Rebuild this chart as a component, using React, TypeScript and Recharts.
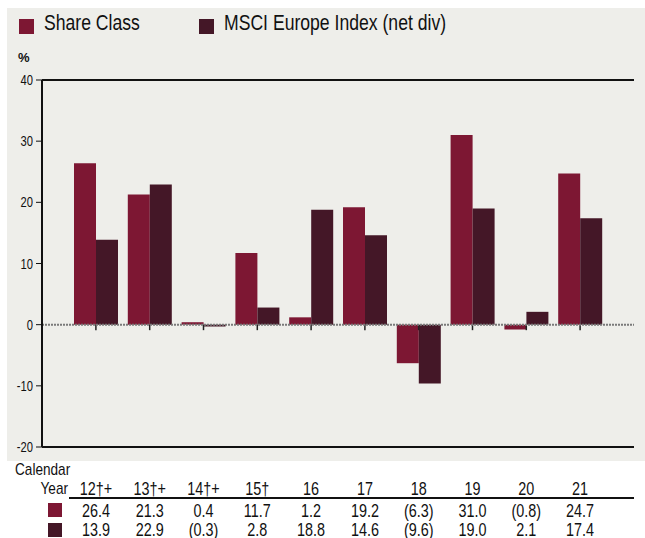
import React from 'react';
import { BarChart, Bar, XAxis, YAxis, ReferenceLine } from 'recharts';

const YEARS = ['12†+', '13†+', '14†+', '15†', '16', '17', '18', '19', '20', '21'];
const SHARE_CLASS = [26.4, 21.3, 0.4, 11.7, 1.2, 19.2, -6.3, 31.0, -0.8, 24.7];
const MSCI_EUROPE = [13.9, 22.9, -0.3, 2.8, 18.8, 14.6, -9.6, 19.0, 2.1, 17.4];
const Y_TICKS = [-20, -10, 0, 10, 20, 30, 40];

const SHARE_COLOR = '#7d1733';
const INDEX_COLOR = '#441727';
const FONT = "'Liberation Sans', Arial, sans-serif";
const NARROW = 0.8; // no narrow font installed, squeeze Liberation Sans instead

const data = YEARS.map((year, i) => ({
  year,
  share: SHARE_CLASS[i],
  index: MSCI_EUROPE[i],
}));

const fmt = (v: number) => (v < 0 ? `(${Math.abs(v).toFixed(1)})` : v.toFixed(1));

// year label + the two value rows, hung off the x axis
const TableTick = (props: any) => {
  const { x, y, index } = props;
  const row = data[index];
  if (!row) return null;
  return (
    <g transform={`translate(${x} ${y}) scale(${NARROW} 1)`} fontFamily={FONT} fontSize={18} fill="#111" textAnchor="middle">
      <text x={0} y={48}>{row.year}</text>
      <text x={0} y={70}>{fmt(row.share)}</text>
      <text x={0} y={89}>{fmt(row.index)}</text>
    </g>
  );
};

const YTick = (props: any) => {
  const { x, y, payload } = props;
  return (
    <text
      transform={`translate(${x} ${y}) scale(${NARROW} 1)`}
      textAnchor="end"
      dy={5}
      fontFamily={FONT}
      fontSize={14}
      fill="#111"
    >
      {payload.value}
    </text>
  );
};

const Square = ({ color, left, top, size }: { color: string; left: number; top: number; size: number }) => (
  <div style={{ position: 'absolute', left, top, width: size, height: size, background: color }} />
);

const Label = ({ left, top, size, children }: { left: number; top: number; size: number; children: React.ReactNode }) => (
  <div
    style={{
      position: 'absolute',
      left,
      top,
      fontSize: size,
      color: '#111',
      whiteSpace: 'nowrap',
      transform: `scaleX(${NARROW})`,
      transformOrigin: 'left top',
    }}
  >
    {children}
  </div>
);

export default function App() {
  return (
    <div style={{ position: 'absolute', left: 0, top: 0, width: 645, height: 538, background: '#fff', overflow: 'hidden', fontFamily: FONT }}>
      <div style={{ position: 'absolute', left: 7, top: 8, width: 638, height: 453, background: '#eeeeea' }} />

      {/* legend */}
      <Square color={SHARE_COLOR} left={19} top={19} size={15} />
      <Label left={44} top={10} size={22}>Share Class</Label>
      <Square color={INDEX_COLOR} left={199} top={19} size={15} />
      <Label left={224} top={10} size={22}>MSCI Europe Index (net div)</Label>

      <div style={{ position: 'absolute', left: 18, top: 50, fontSize: 13, fontWeight: 'bold', color: '#111' }}>%</div>

      <div style={{ position: 'absolute', top: 0, left: 0 }}>
        <BarChart
          width={645}
          height={538}
          data={data}
          margin={{ top: 80, right: 11, bottom: 0, left: 0 }}
          barGap={0}
          barSize={22}
        >
          <XAxis
            dataKey="year"
            height={91}
            padding={{ left: 27, right: 27 }}
            axisLine={{ stroke: '#111', strokeWidth: 2 }}
            tickLine={false}
            tickSize={0}
            tickMargin={0}
            interval={0}
            tick={<TableTick />}
          />
          <YAxis
            domain={[-20, 40]}
            ticks={Y_TICKS}
            width={42}
            axisLine={{ stroke: '#111', strokeWidth: 2 }}
            tickLine={{ stroke: '#111' }}
            tickSize={6}
            tickMargin={3}
            allowDataOverflow
            tick={<YTick />}
          />
          <YAxis
            yAxisId="right"
            orientation="right"
            domain={[-20, 40]}
            width={0}
            axisLine={{ stroke: '#111', strokeWidth: 2 }}
            tick={false}
            tickLine={false}
          />
          <ReferenceLine y={40} stroke="#111" strokeWidth={2} />
          {YEARS.map((yr) => (
            <ReferenceLine
              key={yr}
              segment={[{ x: yr, y: 0 }, { x: yr, y: -0.9 }]}
              stroke="#222"
              strokeWidth={1.5}
            />
          ))}
          <ReferenceLine y={0} stroke="#7a7a7a" strokeWidth={2} strokeDasharray="2 1" />
          <Bar dataKey="share" name="Share Class" fill={SHARE_COLOR} isAnimationActive={false} />
          <Bar dataKey="index" name="MSCI Europe Index (net div)" fill={INDEX_COLOR} isAnimationActive={false} />
        </BarChart>
      </div>

      {/* table row headers */}
      <Label left={15} top={460} size={17}>Calendar</Label>
      <div style={{ position: 'absolute', left: 0, width: 68, top: 479, fontSize: 17, color: '#111', textAlign: 'right', transform: `scaleX(${NARROW})`, transformOrigin: 'right top' }}>Year</div>
      <div style={{ position: 'absolute', left: 69, top: 497, width: 565, height: 2, background: '#111' }} />
      <Square color={SHARE_COLOR} left={48} top={503} size={14} />
      <Square color={INDEX_COLOR} left={48} top={523} size={14} />
    </div>
  );
}
